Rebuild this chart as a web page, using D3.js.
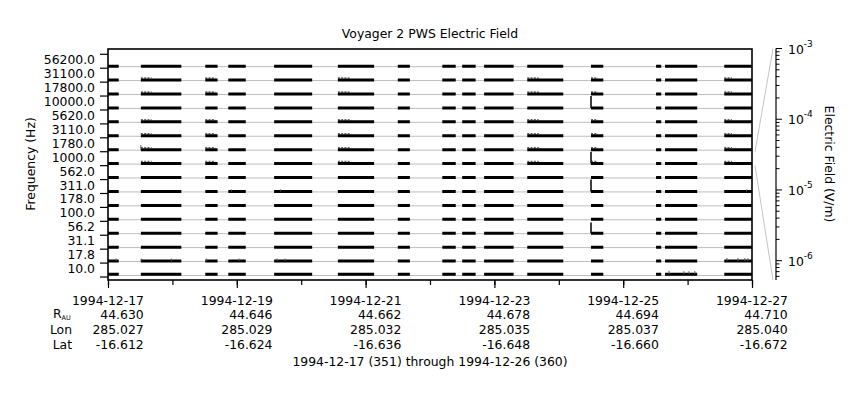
<!DOCTYPE html>
<html><head><meta charset="utf-8">
<script src="https://cdn.jsdelivr.net/npm/d3@7"></script>
<style>
body{margin:0;background:#fff}
text{font-family:"DejaVu Sans",sans-serif;font-size:12.4px;fill:#000}
</style>
</head><body>
<svg id="chart" width="860" height="400"></svg>
<script>
// ---------- data ----------
const channels = ["56200.0","31100.0","17800.0","10000.0","5620.0","3110.0","1780.0","1000.0",
                  "562.0","311.0","178.0","100.0","56.2","31.1","17.8","10.0"];
// intervals with data (UTC)
const segStart = ["1994-12-17T00:00","1994-12-17T12:15","1994-12-18T12:15","1994-12-18T20:50",
  "1994-12-19T13:55","1994-12-20T13:40","1994-12-21T12:00","1994-12-22T04:35","1994-12-22T12:00",
  "1994-12-22T20:10","1994-12-23T12:15","1994-12-24T12:00","1994-12-25T12:15","1994-12-25T15:35",
  "1994-12-26T13:40"];
const segEnd = ["1994-12-17T04:00","1994-12-18T03:20","1994-12-18T16:50","1994-12-19T03:20",
  "1994-12-20T04:05","1994-12-21T03:10","1994-12-21T16:30","1994-12-22T09:35","1994-12-22T17:00",
  "1994-12-23T07:10","1994-12-24T01:40","1994-12-24T16:35","1994-12-25T14:10","1994-12-26T03:35",
  "1994-12-27T00:00"];
// background electric-field level per channel (V/m)
const baseLevel = [1.6e-6,1.6e-6,1.6e-6,1.6e-6,1.6e-6,1.6e-6,1.6e-6,1.6e-6,
                   1.6e-6,1.6e-6,1.6e-6,1.6e-6,1.6e-6,1.6e-6,1.6e-6,2.4e-6];
const refLevel = 1.25e-6;
// impulsive values
const spikeCh = ["10000.0","1000.0","311.0","56.2","1780.0",
  "10.0","10.0","10.0","10.0","17.8","17.8","17.8","17.8",
  "17.8","17.8","17.8","17.8","17.8","17.8","17.8","311.0","311.0","311.0"];
const spikeT = ["1994-12-24T12:00","1994-12-24T12:00","1994-12-24T12:00","1994-12-24T12:00","1994-12-17T12:15",
  "1994-12-25T17:05","1994-12-25T22:35","1994-12-26T00:30","1994-12-26T02:40",
  "1994-12-26T14:40","1994-12-26T18:45","1994-12-26T21:20","1994-12-26T22:30",
  "1994-12-17T03:00","1994-12-17T12:20","1994-12-17T23:35","1994-12-18T12:40","1994-12-19T00:50","1994-12-19T15:00","1994-12-19T18:00",
  "1994-12-18T22:00","1994-12-19T16:20","1994-12-26T22:00"];
const spikeV = [1e-3,1e-3,1e-3,5e-4,2e-5,
  1.5e-5,1.2e-5,1.2e-5,1.2e-5,8e-6,8e-6,8e-6,8e-6,
  6e-6,6e-6,6e-6,6e-6,6e-6,6e-6,6e-6,5e-6,5e-6,5e-6];
// slightly raised values at the start of some intervals
const raisedCh = ["31100.0","17800.0","5620.0","3110.0","1780.0","1000.0"];
const raisedStart = ["1994-12-17T12:15","1994-12-18T12:15","1994-12-20T13:40","1994-12-23T12:15",
  "1994-12-24T12:00","1994-12-26T13:40"];
const raisedEnd = ["1994-12-17T16:15","1994-12-18T16:00","1994-12-20T18:00","1994-12-23T16:30",
  "1994-12-24T14:30","1994-12-26T16:30"];
const raisedV = 4.8e-6;

const dateTicks = ["1994-12-17","1994-12-19","1994-12-21","1994-12-23","1994-12-25","1994-12-27"];
const rAU = ["44.630","44.646","44.662","44.678","44.694","44.710"];
const lon = ["285.027","285.029","285.032","285.035","285.037","285.040"];
const lat = ["-16.612","-16.624","-16.636","-16.648","-16.660","-16.672"];
const efTicks = [1e-3,1e-4,1e-5,1e-6];

// ---------- layout ----------
const svg = d3.select("#chart");
const L = 108, R = 752, T = 49, B = 280;
const parse = s => new Date(s + (s.length === 10 ? "T00:00" : "") + "Z");
const x = d3.scaleUtc().domain([parse("1994-12-17"), parse("1994-12-27")]).range([L, R]);
const band = d3.scaleBand().domain(channels).range([54.3, 277]).paddingInner(0).paddingOuter(0);
const eIn = d3.scaleLog().domain([5.33e-7, 1e-3]).range([band.bandwidth(), 0]);
const y = (ch, v) => band(ch) + eIn(v);

// title
svg.append("text").attr("x", 430).attr("y", 38).attr("text-anchor", "middle")
  .text("Voyager 2 PWS Electric Field");

// reference lines
const g = svg.append("g");
g.selectAll("line.ref").data(channels).join("line")
  .attr("x1", L).attr("x2", R)
  .attr("y1", d => y(d, refLevel)).attr("y2", d => y(d, refLevel))
  .attr("stroke", "#bdbdbd").attr("stroke-width", 1);

// raised (gray) portions
const raised = [];
raisedCh.forEach(ch => raisedStart.forEach((s, i) => raised.push({ch, s: parse(s), e: parse(raisedEnd[i])})));
g.selectAll("line.raised").data(raised).join("line")
  .attr("x1", d => x(d.s)).attr("x2", d => x(d.e))
  .attr("y1", d => y(d.ch, raisedV)).attr("y2", d => y(d.ch, raisedV))
  .attr("stroke", "#666").attr("stroke-width", 1.5).attr("stroke-dasharray", "2,1.3");

// background level bars
const line = d3.line().defined(d => d.v != null).x(d => x(d.t)).y(d => d.y);
channels.forEach((ch, ci) => {
  const pts = [];
  segStart.forEach((s, i) => {
    pts.push({t: parse(s), v: baseLevel[ci], y: y(ch, baseLevel[ci])});
    pts.push({t: parse(segEnd[i]), v: baseLevel[ci], y: y(ch, baseLevel[ci])});
    pts.push({t: parse(segEnd[i]), v: null});
  });
  g.append("path").attr("d", line(pts)).attr("fill", "none")
    .attr("stroke", "#000").attr("stroke-width", 3);
});

// spikes
const spikes = spikeCh.map((ch, i) => ({ch, t: parse(spikeT[i]), v: spikeV[i],
  b: baseLevel[channels.indexOf(ch)]}));
g.selectAll("line.spike").data(spikes).join("line")
  .attr("x1", d => x(d.t)).attr("x2", d => x(d.t))
  .attr("y1", d => y(d.ch, d.b)).attr("y2", d => y(d.ch, d.v))
  .attr("stroke", d => d.v > 1e-4 ? "#000" : "#555").attr("stroke-width", d => d.v > 1e-4 ? 1.5 : 1);

// frame
svg.append("rect").attr("x", L).attr("y", T).attr("width", R - L).attr("height", B - T)
  .attr("fill", "none").attr("stroke", "#000").attr("stroke-width", 1.6);

// left axis: ticks at band boundaries, labels at band centres
const bounds = channels.map(c => band(c)).concat([band(channels[channels.length - 1]) + band.bandwidth()]);
svg.selectAll("line.ltick").data(bounds).join("line")
  .attr("x1", L - 8).attr("x2", L).attr("y1", d => d).attr("y2", d => d)
  .attr("stroke", "#000").attr("stroke-width", 1.2);
svg.selectAll("text.ylab").data(channels).join("text")
  .attr("x", 95).attr("y", d => band(d) + band.bandwidth() / 2 + 3)
  .attr("text-anchor", "end").text(d => d);
svg.append("text").attr("transform", "translate(35,164) rotate(-90)")
  .attr("text-anchor", "middle").text("Frequency (Hz)");

// bottom axis
const major = d3.axisBottom(x).tickValues(dateTicks.map(parse)).tickSize(8).tickFormat("");
const minor = d3.axisBottom(x).ticks(d3.utcDay.every(1)).tickSize(5).tickFormat("");
const ga = svg.append("g").attr("transform", `translate(0,${B})`).call(minor);
ga.select(".domain").remove();
ga.selectAll("line").attr("stroke-width", 1.2);
const gb = svg.append("g").attr("transform", `translate(0,${B})`).call(major);
gb.select(".domain").remove();
gb.selectAll("line").attr("stroke-width", 1.2);

// bottom label rows
const rowY = [304.5, 319, 334, 349];
dateTicks.forEach((d, i) => {
  const cx = x(parse(d));
  svg.append("text").attr("x", cx).attr("y", rowY[0]).attr("text-anchor", "middle").text(d);
  [rAU, lon, lat].forEach((arr, k) => {
    svg.append("text").attr("x", cx + 35.7).attr("y", rowY[k + 1]).attr("text-anchor", "end").text(arr[i]);
  });
});
const rl = svg.append("text").attr("x", 53).attr("y", rowY[1] - 1);
rl.append("tspan").text("R");
rl.append("tspan").attr("font-size", "6.5px").attr("dy", 2).text("AU");
svg.append("text").attr("x", 72).attr("y", rowY[2]).attr("text-anchor", "end").text("Lon");
svg.append("text").attr("x", 72).attr("y", rowY[3]).attr("text-anchor", "end").text("Lat");
svg.append("text").attr("x", 430).attr("y", 366).attr("text-anchor", "middle")
  .text("1994-12-17 (351) through 1994-12-26 (360)");

// right electric-field axis
const ef = d3.scaleLog().domain([5.33e-7, 1e-3]).range([B, 48.5]);
const AX = 776;
const efAll = [];
for (let e = -7; e <= -4; e++) for (let m = 1; m <= 9; m++) {
  const v = m * Math.pow(10, e);
  if (v >= 5.33e-7 && v <= 1.0001e-3) efAll.push(v);
}
efAll.push(1e-3);
svg.append("line").attr("x1", AX).attr("x2", AX).attr("y1", ef(1e-3)).attr("y2", B)
  .attr("stroke", "#000").attr("stroke-width", 1.2);
svg.selectAll("line.rtick").data(efAll).join("line")
  .attr("x1", AX).attr("x2", d => AX + (efTicks.some(t => Math.abs(t - d) / t < 1e-6) ? 6 : 3.5))
  .attr("y1", d => ef(d)).attr("y2", d => ef(d)).attr("stroke", "#000").attr("stroke-width", 1);
efTicks.forEach(v => {
  const t = svg.append("text").attr("x", 788).attr("y", ef(v) + 5);
  t.append("tspan").text("10");
  t.append("tspan").attr("font-size", "9px").attr("dy", -7).text(String(Math.round(Math.log10(v))));
});
svg.append("text").attr("transform", "translate(825,164) rotate(90)")
  .attr("text-anchor", "middle").text("Electric Field (V/m)");

// connector lines from the reference band to the field axis
const refCh = "1000.0";
svg.append("line").attr("x1", 755).attr("y1", band(refCh)).attr("x2", 773).attr("y2", ef(1e-3))
  .attr("stroke", "#c4c4c4").attr("stroke-width", 1);
svg.append("line").attr("x1", 755).attr("y1", band(refCh) + band.bandwidth()).attr("x2", 773).attr("y2", B)
  .attr("stroke", "#c4c4c4").attr("stroke-width", 1);
</script>
</body></html>
